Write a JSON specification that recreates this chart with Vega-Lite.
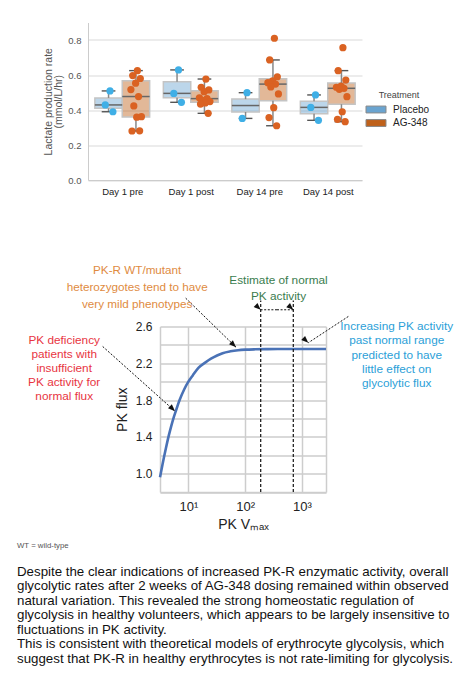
{
  "$schema": "https://vega.github.io/schema/vega-lite/v6.json",
  "padding": {"left": 17, "top": 22.5, "right": 0, "bottom": 0},
  "config": {"font": "Liberation Sans", "view": {"stroke": null}, "axis": {"labelOverlap": false}},
  "bounds": "flush",
  "spacing": 146,
  "resolve": {"scale": {"x": "independent", "y": "independent", "color": "independent"}},
  "title": {
    "text": "WT = wild-type",
    "subtitle": [
      "Despite the clear indications of increased PK-R enzymatic activity, overall",
      "glycolytic rates after 2 weeks of AG-348 dosing remained within observed",
      "natural variation. This revealed the strong homeostatic regulation of",
      "glycolysis in healthy volunteers, which appears to be largely insensitive to",
      "fluctuations in PK activity.",
      "This is consistent with theoretical models of erythrocyte glycolysis, which",
      "suggest that PK-R in healthy erythrocytes is not rate-limiting for glycolysis."
    ],
    "orient": "bottom", "anchor": "start", "frame": "group", "dx": -71, "offset": 11,
    "fontSize": 7.8, "fontWeight": "normal", "color": "#555555",
    "subtitleFontSize": 13.3, "subtitleColor": "#111111", "subtitleLineHeight": 14.5, "subtitlePadding": 15
  },
  "vconcat": [
    {
      "width": 274, "height": 157.5,
      "data": {"values": [
        {"day": "Day 1 pre", "treatment": "Placebo", "rate": 0.509},
        {"day": "Day 1 pre", "treatment": "Placebo", "rate": 0.429},
        {"day": "Day 1 pre", "treatment": "Placebo", "rate": 0.390},
        {"day": "Day 1 pre", "treatment": "AG-348", "rate": 0.625},
        {"day": "Day 1 pre", "treatment": "AG-348", "rate": 0.597},
        {"day": "Day 1 pre", "treatment": "AG-348", "rate": 0.580},
        {"day": "Day 1 pre", "treatment": "AG-348", "rate": 0.553},
        {"day": "Day 1 pre", "treatment": "AG-348", "rate": 0.517},
        {"day": "Day 1 pre", "treatment": "AG-348", "rate": 0.477},
        {"day": "Day 1 pre", "treatment": "AG-348", "rate": 0.423},
        {"day": "Day 1 pre", "treatment": "AG-348", "rate": 0.362},
        {"day": "Day 1 pre", "treatment": "AG-348", "rate": 0.359},
        {"day": "Day 1 pre", "treatment": "AG-348", "rate": 0.280},
        {"day": "Day 1 pre", "treatment": "AG-348", "rate": 0.281},
        {"day": "Day 1 post", "treatment": "Placebo", "rate": 0.629},
        {"day": "Day 1 post", "treatment": "Placebo", "rate": 0.495},
        {"day": "Day 1 post", "treatment": "Placebo", "rate": 0.444},
        {"day": "Day 1 post", "treatment": "AG-348", "rate": 0.577},
        {"day": "Day 1 post", "treatment": "AG-348", "rate": 0.530},
        {"day": "Day 1 post", "treatment": "AG-348", "rate": 0.515},
        {"day": "Day 1 post", "treatment": "AG-348", "rate": 0.505},
        {"day": "Day 1 post", "treatment": "AG-348", "rate": 0.470},
        {"day": "Day 1 post", "treatment": "AG-348", "rate": 0.465},
        {"day": "Day 1 post", "treatment": "AG-348", "rate": 0.455},
        {"day": "Day 1 post", "treatment": "AG-348", "rate": 0.448},
        {"day": "Day 1 post", "treatment": "AG-348", "rate": 0.440},
        {"day": "Day 1 post", "treatment": "AG-348", "rate": 0.434},
        {"day": "Day 1 post", "treatment": "AG-348", "rate": 0.381},
        {"day": "Day 14 pre", "treatment": "Placebo", "rate": 0.499},
        {"day": "Day 14 pre", "treatment": "Placebo", "rate": 0.352},
        {"day": "Day 14 pre", "treatment": "AG-348", "rate": 0.810},
        {"day": "Day 14 pre", "treatment": "AG-348", "rate": 0.686},
        {"day": "Day 14 pre", "treatment": "AG-348", "rate": 0.590},
        {"day": "Day 14 pre", "treatment": "AG-348", "rate": 0.566},
        {"day": "Day 14 pre", "treatment": "AG-348", "rate": 0.556},
        {"day": "Day 14 pre", "treatment": "AG-348", "rate": 0.548},
        {"day": "Day 14 pre", "treatment": "AG-348", "rate": 0.532},
        {"day": "Day 14 pre", "treatment": "AG-348", "rate": 0.492},
        {"day": "Day 14 pre", "treatment": "AG-348", "rate": 0.413},
        {"day": "Day 14 pre", "treatment": "AG-348", "rate": 0.357},
        {"day": "Day 14 pre", "treatment": "AG-348", "rate": 0.310},
        {"day": "Day 14 post", "treatment": "Placebo", "rate": 0.486},
        {"day": "Day 14 post", "treatment": "Placebo", "rate": 0.415},
        {"day": "Day 14 post", "treatment": "Placebo", "rate": 0.341},
        {"day": "Day 14 post", "treatment": "AG-348", "rate": 0.756},
        {"day": "Day 14 post", "treatment": "AG-348", "rate": 0.625},
        {"day": "Day 14 post", "treatment": "AG-348", "rate": 0.571},
        {"day": "Day 14 post", "treatment": "AG-348", "rate": 0.537},
        {"day": "Day 14 post", "treatment": "AG-348", "rate": 0.530},
        {"day": "Day 14 post", "treatment": "AG-348", "rate": 0.524},
        {"day": "Day 14 post", "treatment": "AG-348", "rate": 0.518},
        {"day": "Day 14 post", "treatment": "AG-348", "rate": 0.476},
        {"day": "Day 14 post", "treatment": "AG-348", "rate": 0.390},
        {"day": "Day 14 post", "treatment": "AG-348", "rate": 0.347},
        {"day": "Day 14 post", "treatment": "AG-348", "rate": 0.333}
      ]},
      "transform": [
        {"calculate": "indexof(['Day 1 pre','Day 1 post','Day 14 pre','Day 14 post'], datum.day) + (datum.treatment === 'Placebo' ? -0.2 : 0.2)", "as": "cx"}
      ],
      "layer": [
        {
          "transform": [
            {"joinaggregate": [
              {"op": "q1", "field": "rate", "as": "q1"},
              {"op": "median", "field": "rate", "as": "med"},
              {"op": "q3", "field": "rate", "as": "q3"}
            ], "groupby": ["day", "treatment", "cx"]},
            {"filter": "datum.rate >= datum.q1 - 1.5 * (datum.q3 - datum.q1) && datum.rate <= datum.q3 + 1.5 * (datum.q3 - datum.q1)"},
            {"aggregate": [
              {"op": "min", "field": "rate", "as": "lo"},
              {"op": "max", "field": "rate", "as": "hi"},
              {"op": "min", "field": "q1", "as": "q1"},
              {"op": "min", "field": "med", "as": "med"},
              {"op": "min", "field": "q3", "as": "q3"}
            ], "groupby": ["day", "treatment", "cx"]},
            {"calculate": "datum.cx - 0.2", "as": "bx1"},
            {"calculate": "datum.cx + 0.2", "as": "bx2"},
            {"calculate": "datum.cx - 0.1", "as": "kx1"},
            {"calculate": "datum.cx + 0.1", "as": "kx2"}
          ],
          "layer": [
            {
              "mark": {"type": "bar", "fillOpacity": 0.45, "stroke": "#c4c4c4", "strokeWidth": 1.5},
              "encoding": {
                "x": {"field": "bx1", "type": "quantitative",
                  "scale": {"domain": [-0.5, 3.5], "nice": false, "zero": false},
                  "axis": {"values": [0, 1, 2, 3], "tickCount": 10, "labelExpr": "['Day 1 pre','Day 1 post','Day 14 pre','Day 14 post'][datum.value]", "grid": false, "ticks": false, "domainColor": "#cccccc", "labelColor": "#222222", "labelFontSize": 9.5, "labelPadding": 6, "title": null, "labelFlush": false, "labelOverlap": false}},
                "x2": {"field": "bx2"},
                "y": {"field": "q1", "type": "quantitative",
                  "scale": {"domain": [0, 0.9], "nice": false, "zero": false},
                  "axis": {"values": [0, 0.2, 0.4, 0.6, 0.8], "tickCount": 10, "labelExpr": "format(datum.value, '.1f')", "grid": true, "gridColor": "#d9d9d9", "ticks": false, "domainColor": "#cccccc", "labelColor": "#555555", "labelFontSize": 9.5, "labelPadding": 7, "labelFlush": false, "labelOverlap": false,
                    "title": ["Lactate production rate", "(mmol/L/hr)"], "titleColor": "#555555", "titleFontSize": 10.5, "titleFontWeight": "normal", "titlePadding": 4, "titleLineHeight": 10.5}},
                "y2": {"field": "q3"},
                "color": {"field": "treatment", "type": "nominal",
                  "scale": {"domain": ["Placebo", "AG-348"], "range": ["#6aa4d0", "#bf611a"]},
                  "legend": {"orient": "none", "legendX": 281, "legendY": 68, "title": "Treatment", "titleFontSize": 9, "titleFontWeight": "normal", "titleColor": "#444444", "titleAnchor": "middle", "titlePadding": 3,
                    "labelFontSize": 10, "labelColor": "#222222", "labelOffset": 10, "symbolType": "M-1.6,-0.55H1.6V0.55H-1.6Z", "symbolSize": 156, "symbolStrokeColor": "#888888", "symbolStrokeWidth": 1, "symbolOpacity": 1, "rowPadding": 0.5}}
              }
            },
            {
              "mark": {"type": "rule", "color": "#888888", "strokeWidth": 1.5},
              "encoding": {"x": {"field": "cx", "type": "quantitative", "title": null}, "y": {"field": "q3", "type": "quantitative"}, "y2": {"field": "hi"}}
            },
            {
              "mark": {"type": "rule", "color": "#888888", "strokeWidth": 1.5},
              "encoding": {"x": {"field": "cx", "type": "quantitative", "title": null}, "y": {"field": "lo", "type": "quantitative"}, "y2": {"field": "q1"}}
            },
            {
              "mark": {"type": "rule", "color": "#555555", "strokeWidth": 1.4},
              "encoding": {"x": {"field": "kx1", "type": "quantitative", "title": null}, "x2": {"field": "kx2"}, "y": {"field": "hi", "type": "quantitative"}}
            },
            {
              "mark": {"type": "rule", "color": "#555555", "strokeWidth": 1.4},
              "encoding": {"x": {"field": "kx1", "type": "quantitative", "title": null}, "x2": {"field": "kx2"}, "y": {"field": "lo", "type": "quantitative"}}
            },
            {
              "mark": {"type": "rule", "color": "#666666", "strokeWidth": 1.5},
              "encoding": {"x": {"field": "bx1", "type": "quantitative", "title": null}, "x2": {"field": "bx2"}, "y": {"field": "med", "type": "quantitative"}}
            }
          ]
        },
        {
          "transform": [
            {"window": [{"op": "row_number", "as": "rn"}], "groupby": ["day", "treatment"]},
            {"calculate": "datum.cx + ((datum.rn * 0.618034) % 1 - 0.5) * 0.18", "as": "px"}
          ],
          "mark": {"type": "circle", "size": 52, "opacity": 1},
          "encoding": {
            "x": {"field": "px", "type": "quantitative", "title": null},
            "y": {"field": "rate", "type": "quantitative",
              "scale": {"domain": [0, 0.9], "nice": false, "zero": false},
              "axis": {"values": [0, 0.2, 0.4, 0.6, 0.8], "tickCount": 10, "labelExpr": "format(datum.value, '.1f')", "grid": true, "gridColor": "#d9d9d9", "ticks": false, "domainColor": "#cccccc", "labelColor": "#555555", "labelFontSize": 9.5, "labelPadding": 7, "labelFlush": false, "labelOverlap": false,
                "title": ["Lactate production rate", "(mmol/L/hr)"], "titleColor": "#555555", "titleFontSize": 10.5, "titleFontWeight": "normal", "titlePadding": 4, "titleLineHeight": 10.5}},
            "color": {"condition": {"test": "datum.treatment === 'Placebo'", "value": "#3fafe6"}, "value": "#da6222"}
          }
        }
      ]
    },
    {
      "width": 238, "height": 165.5,
      "encoding": {
        "x": {"field": "v", "type": "quantitative",
          "scale": {"type": "log", "domain": [3.1623, 2648], "range": [72, 238], "nice": false},
          "axis": {"values": [10, 100, 1000, 2648], "tickCount": 10, "labelExpr": "datum.value == 10 ? '10¹' : datum.value == 100 ? '10²' : datum.value == 1000 ? '10³' : ''",
            "grid": true, "gridColor": "#cdcdcd", "gridWidth": 1.5, "ticks": false, "domainColor": "#cdcdcd", "domainWidth": 1.5,
            "labelFontSize": 13, "labelColor": "#222222", "labelPadding": 8, "labelFlush": false, "labelOverlap": false,
            "title": "PK Vₘₐₓ", "titleFontSize": 14, "titleFontWeight": "normal", "titleColor": "#222222", "titlePadding": 4}},
        "y": {"field": "flux", "type": "quantitative",
          "scale": {"domain": [0.8, 2.6], "nice": false, "zero": false},
          "axis": {"values": [0.8, 1.0, 1.2, 1.4, 1.6, 1.8, 2.0, 2.2, 2.4, 2.6], "tickCount": 20,
            "labelExpr": "indexof(['1.0','1.4','1.8','2.2','2.6'], format(datum.value, '.1f')) >= 0 ? format(datum.value, '.1f') : ''",
            "offset": -72, "grid": true, "gridColor": "#cdcdcd", "gridWidth": 1.5, "ticks": false, "domainColor": "#cdcdcd", "domainWidth": 1.5,
            "labelFontSize": 12, "labelColor": "#222222", "labelPadding": 8, "labelFlush": false, "labelOverlap": false,
            "title": "PK flux", "titleFontSize": 14, "titleFontWeight": "normal", "titleColor": "#222222", "titlePadding": 6}}
      },
      "layer": [
        {
          "data": {"values": [
            {"v": 3.1623, "flux": 0.96}, {"v": 3.5, "flux": 1.10}, {"v": 4.0, "flux": 1.27}, {"v": 4.5, "flux": 1.41},
            {"v": 5.0, "flux": 1.52}, {"v": 5.5, "flux": 1.61}, {"v": 6.0, "flux": 1.68}, {"v": 7.0, "flux": 1.80},
            {"v": 8.5, "flux": 1.92}, {"v": 10, "flux": 2.00}, {"v": 12, "flux": 2.07}, {"v": 15, "flux": 2.15},
            {"v": 20, "flux": 2.21}, {"v": 25, "flux": 2.25}, {"v": 32, "flux": 2.285}, {"v": 40, "flux": 2.31},
            {"v": 55, "flux": 2.33}, {"v": 75, "flux": 2.342}, {"v": 100, "flux": 2.348}, {"v": 150, "flux": 2.352},
            {"v": 250, "flux": 2.354}, {"v": 500, "flux": 2.355}, {"v": 1000, "flux": 2.355}, {"v": 2648, "flux": 2.355}
          ]},
          "mark": {"type": "line", "color": "#4a72b6", "strokeWidth": 2.6, "interpolate": "monotone"}
        },
        {
          "data": {"values": [
            {"v": 187.6, "flux": 0.8, "flux2": 2.883},
            {"v": 703, "flux": 0.8, "flux2": 2.883}
          ]},
          "mark": {"type": "rule", "color": "#111111", "strokeWidth": 1.2, "strokeDash": [3, 2]},
          "encoding": {"y2": {"field": "flux2"}}
        },
        {
          "data": {"name": "arrows", "values": [
            {"name": "orange", "v": 8.96, "flux": 2.908, "v2": 68.9, "flux2": 2.375},
            {"name": "red", "v": 0.3097, "flux": 2.3825, "v2": 5.81, "flux2": 1.679},
            {"name": "blue", "v": 6546, "flux": 2.709, "v2": 1291, "flux2": 2.423},
            {"name": "left", "v": 363, "flux": 2.782, "v2": 187.6, "flux2": 2.782},
            {"name": "right", "v": 363, "flux": 2.782, "v2": 703, "flux2": 2.782}
          ]},
          "layer": [
            {
              "mark": {"type": "rule", "color": "#111111", "strokeWidth": 1, "strokeDash": [2, 1.6]},
              "encoding": {"x2": {"field": "v2"}, "y2": {"field": "flux2"}}
            },
            {
              "mark": {"type": "point", "filled": true, "color": "#111111", "opacity": 1, "size": 49, "shape": "M0,0L-0.8,2L0.8,2Z"},
              "encoding": {
                "x": {"field": "v2", "type": "quantitative"},
                "y": {"field": "flux2", "type": "quantitative"},
                "angle": {"field": "name", "type": "nominal", "scale": {"domain": ["orange", "red", "blue", "left", "right"], "range": [134.25, 132.2, 236.7, 270, 90]}, "legend": null}
              }
            }
          ]
        },
        {
          "data": {"values": [{"label": "PK-R WT/mutant\nheterozygotes tend to have\nvery mild phenotypes", "v": 1.255, "flux": 3.211}]},
          "mark": {"type": "text", "lineBreak": "\n", "lineHeight": 16.7, "fontSize": 11.7, "align": "center", "baseline": "middle", "color": "#e08b3f"},
          "encoding": {"text": {"field": "label", "type": "nominal"}}
        },
        {
          "data": {"values": [{"label": "Estimate of normal\nPK activity", "v": 386, "flux": 3.106}]},
          "mark": {"type": "text", "lineBreak": "\n", "lineHeight": 15.6, "fontSize": 11.8, "align": "center", "baseline": "middle", "color": "#3a7c4e"},
          "encoding": {"text": {"field": "label", "type": "nominal"}}
        },
        {
          "data": {"values": [{"label": "Increasing PK activity\npast normal range\npredicted to have\nlittle effect on\nglycolytic flux", "v": 46560, "flux": 2.6016}]},
          "mark": {"type": "text", "lineBreak": "\n", "lineHeight": 14.1, "fontSize": 11.8, "align": "center", "baseline": "middle", "color": "#2ba0d8"},
          "encoding": {"text": {"field": "label", "type": "nominal"}}
        },
        {
          "data": {"values": [{"label": "PK deficiency\npatients with\ninsufficient\nPK activity for\nnormal flux", "v": 0.065, "flux": 2.4575}]},
          "mark": {"type": "text", "lineBreak": "\n", "lineHeight": 14.2, "fontSize": 11.8, "align": "center", "baseline": "middle", "color": "#e8343f"},
          "encoding": {"text": {"field": "label", "type": "nominal"}}
        }
      ]
    }
  ]
}
